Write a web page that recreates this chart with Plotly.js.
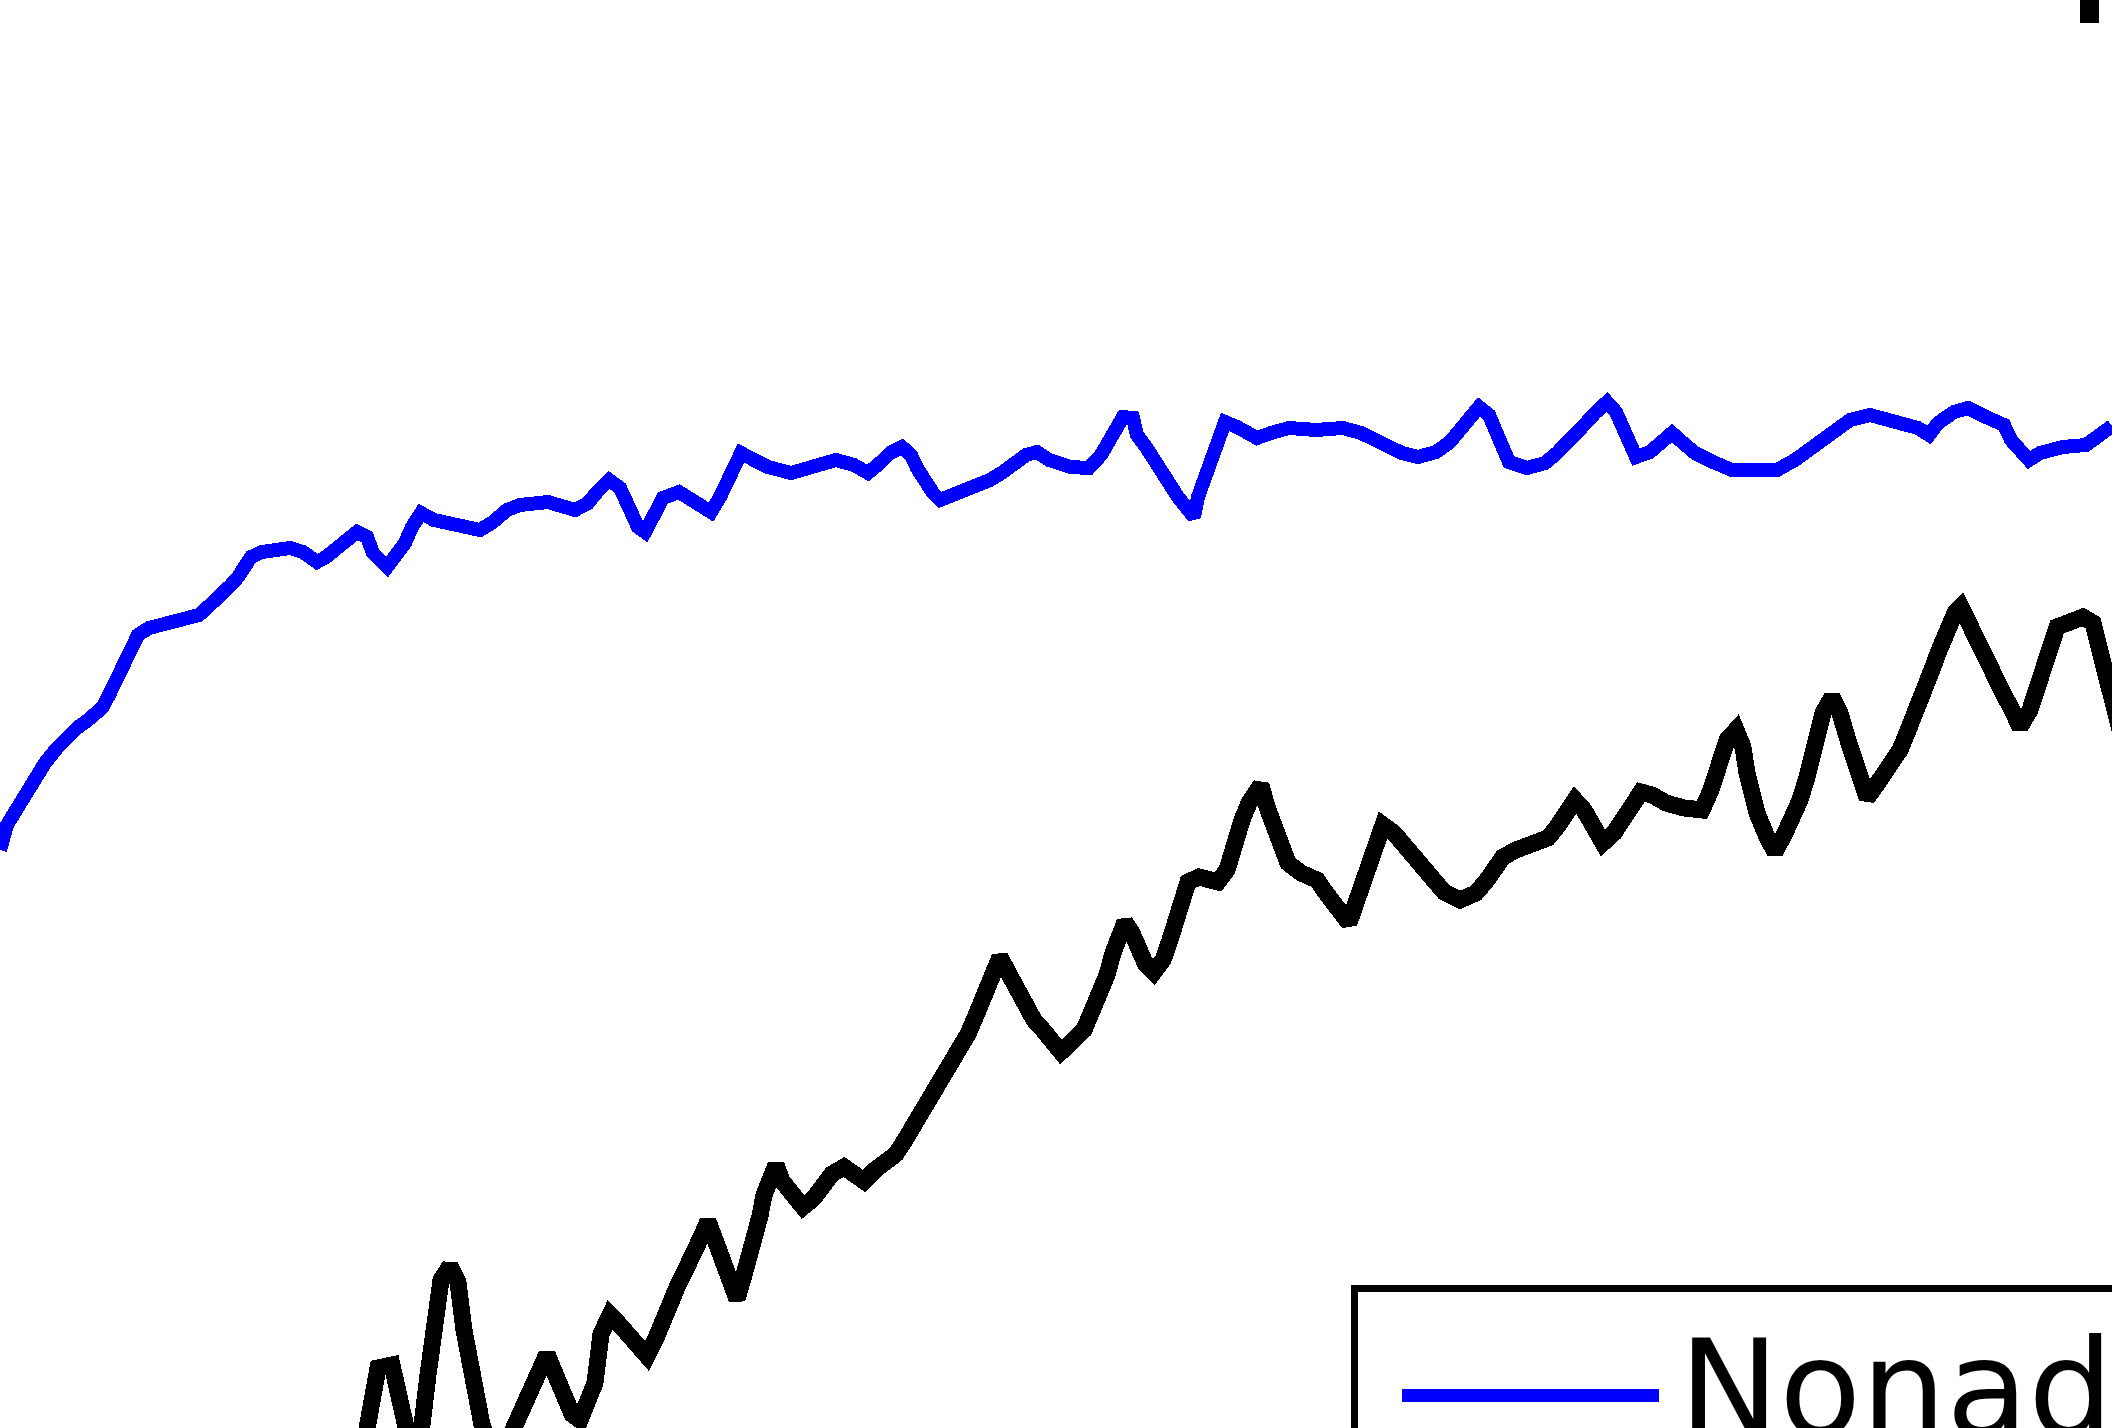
<!DOCTYPE html>
<html>
<head>
<meta charset="utf-8">
<script src="https://cdn.plot.ly/plotly-3.0.1.min.js"></script>
<style>
  html, body { margin: 0; padding: 0; background: #ffffff; }
  #chart { width: 2112px; height: 1428px; }
  .main-svg path { shape-rendering: crispEdges; }
</style>
</head>
<body>
<div id="chart"></div>
<script>
// Series values (arbitrary units)
const nonadaptiveX = [0,2,7,18,25,32,38,45,57,66,77,88,102,109,115,122,129,131,138,149,167,186,199,210,222,231,238,244,251,262,290,303,317,326,339,351,357,367,373,387,396,405,412,421,434,452,480,493,507,520,548,575,588,597,609,620,629,638,645,654,663,679,690,702,711,720,727,734,741,754,768,791,813,836,854,868,881,890,902,911,917,924,933,940,958,976,990,1003,1012,1026,1037,1049,1071,1089,1101,1108,1114,1123,1133,1137,1146,1153,1160,1169,1178,1187,1194,1198,1205,1212,1216,1225,1237,1257,1271,1289,1316,1343,1361,1375,1391,1402,1418,1436,1450,1459,1468,1479,1489,1495,1502,1509,1527,1545,1557,1566,1575,1586,1595,1607,1616,1623,1629,1636,1650,1663,1672,1682,1695,1713,1732,1754,1777,1795,1809,1822,1834,1850,1870,1895,1918,1929,1938,1954,1968,1986,2004,2011,2020,2029,2040,2063,2086,2099,2112];
const nonadaptiveY = [578,585,603,621,633,643,653,665,680,691,700,708,720,733,746,760,775,786,793,800,805,808,813,823,833,843,851,861,871,876,880,876,866,871,881,890,896,891,875,861,871,885,901,915,908,905,898,906,918,923,926,918,925,936,948,940,921,901,896,911,930,936,930,921,916,931,948,963,975,968,961,955,960,968,963,955,966,975,981,973,960,948,935,928,935,941,948,956,963,973,976,968,961,960,973,985,998,1011,1010,993,981,968,956,945,931,921,911,931,950,970,986,1006,1001,990,995,1000,998,1000,995,988,981,975,971,976,986,998,1011,1021,1013,998,981,966,960,965,975,986,995,1005,1015,1026,1016,1001,985,971,976,988,995,986,975,966,958,958,958,968,978,988,998,1008,1013,1008,1000,993,1005,1016,1020,1011,1003,988,976,968,975,981,983,993,1002];

const adaptiveX = [365,371,378,392,399,405,410,416,422,428,434,441,450,458,464,470,476,482,490,502,512,520,528,536,547,556,563,572,580,588,595,601,610,619,629,640,647,656,662,669,678,685,692,696,703,708,715,721,728,737,744,751,755,760,764,771,776,782,792,803,814,823,832,844,855,864,875,887,896,905,914,923,934,946,957,968,977,984,991,1000,1009,1018,1025,1034,1043,1052,1061,1084,1095,1102,1107,1113,1118,1125,1132,1138,1145,1154,1163,1170,1177,1181,1188,1199,1218,1227,1231,1236,1242,1249,1256,1261,1267,1274,1281,1288,1301,1317,1326,1335,1349,1358,1365,1372,1376,1383,1394,1403,1412,1424,1433,1444,1460,1476,1487,1496,1503,1516,1535,1548,1557,1566,1575,1584,1593,1603,1614,1623,1632,1641,1652,1666,1684,1702,1711,1716,1720,1727,1736,1743,1747,1752,1757,1767,1775,1785,1793,1800,1807,1812,1817,1823,1832,1840,1847,1853,1860,1867,1875,1883,1892,1900,1907,1913,1918,1923,1928,1933,1938,1943,1950,1955,1961,1967,1973,1980,1987,1995,2003,2012,2020,2030,2037,2043,2050,2057,2070,2083,2093,2098,2103,2108,2112,2120];
const adaptiveY = [-12,28,60,63,33,3,-17,-22,3,53,103,148,162,146,98,60,28,3,-17,-22,-4,16,33,54,74,52,30,14,8,26,45,94,113,104,94,80,72,90,108,129,143,157,169,181,195,207,188,171,153,129,153,174,191,212,233,254,263,247,235,221,230,244,254,261,254,247,258,265,274,288,303,317,331,352,375,394,415,436,457,471,454,436,422,408,398,384,376,398,423,448,453,475,495,506,495,481,465,456,468,488,511,528,546,551,546,558,575,591,608,625,636,643,621,601,581,565,555,548,535,523,505,531,551,575,593,603,595,585,571,560,548,536,528,535,548,561,571,578,585,590,601,615,628,618,601,585,595,608,621,636,633,625,620,618,638,655,675,688,698,681,655,633,615,591,576,595,610,628,651,671,695,715,731,715,691,671,648,630,641,651,665,678,695,708,721,735,750,761,775,788,803,815,821,808,791,775,761,748,735,718,701,718,741,768,788,801,806,811,805,788,768,748,728,698];

const legendLabels = ["Nonadaptive", "Adaptive"];

const traces = [
  {
    x: nonadaptiveX, y: nonadaptiveY, type: "scatter", mode: "lines",
    name: legendLabels[0], line: { color: "#0000ff", width: 14, shape: "linear" },
    hoverinfo: "skip"
  },
  {
    x: adaptiveX, y: adaptiveY, type: "scatter", mode: "lines",
    name: legendLabels[1], line: { color: "#000000", width: 17, shape: "linear" },
    hoverinfo: "skip"
  }
];

const W = 2112, H = 1428;
const px = v => v / W;
const py = v => 1 - v / H;

const layout = {
  width: W, height: H,
  margin: { l: 0, r: 0, t: 0, b: 0, pad: 0 },
  paper_bgcolor: "#ffffff", plot_bgcolor: "#ffffff",
  showlegend: false,
  xaxis: { range: [0, 2112], visible: false, showgrid: false, zeroline: false, fixedrange: true },
  yaxis: { range: [0, 1428], visible: false, showgrid: false, zeroline: false, fixedrange: true },
  shapes: [
    // legend background
    { type: "rect", xref: "paper", yref: "paper", layer: "above",
      x0: px(1351), x1: px(2200), y0: py(1500), y1: py(1285),
      line: { width: 0 }, fillcolor: "#ffffff" },
    // legend frame: left edge
    { type: "rect", xref: "paper", yref: "paper", layer: "above",
      x0: px(1351), x1: px(1358), y0: py(1500), y1: py(1285),
      line: { width: 0 }, fillcolor: "#000000" },
    // legend frame: top edge
    { type: "rect", xref: "paper", yref: "paper", layer: "above",
      x0: px(1351), x1: px(2200), y0: py(1292), y1: py(1285),
      line: { width: 0 }, fillcolor: "#000000" },
    // legend sample line for first series
    { type: "line", xref: "paper", yref: "paper", layer: "above",
      x0: px(1402), x1: px(1659), y0: py(1395), y1: py(1395),
      line: { color: "#0000ff", width: 13 } },
    // small dark mark at the top right
    { type: "rect", xref: "paper", yref: "paper", layer: "above",
      x0: px(2080), x1: px(2099), y0: py(23), y1: py(-5),
      line: { width: 0 }, fillcolor: "#000000" }
  ],
  annotations: [
    { xref: "paper", yref: "paper", x: px(1678), y: py(1310),
      xanchor: "left", yanchor: "top", showarrow: false, borderpad: 0,
      text: legendLabels[0],
      font: { family: "DejaVu Sans, sans-serif", size: 134, color: "#000000" } }
  ]
};

Plotly.newPlot("chart", traces, layout, { staticPlot: true, displayModeBar: false });
</script>
</body>
</html>
